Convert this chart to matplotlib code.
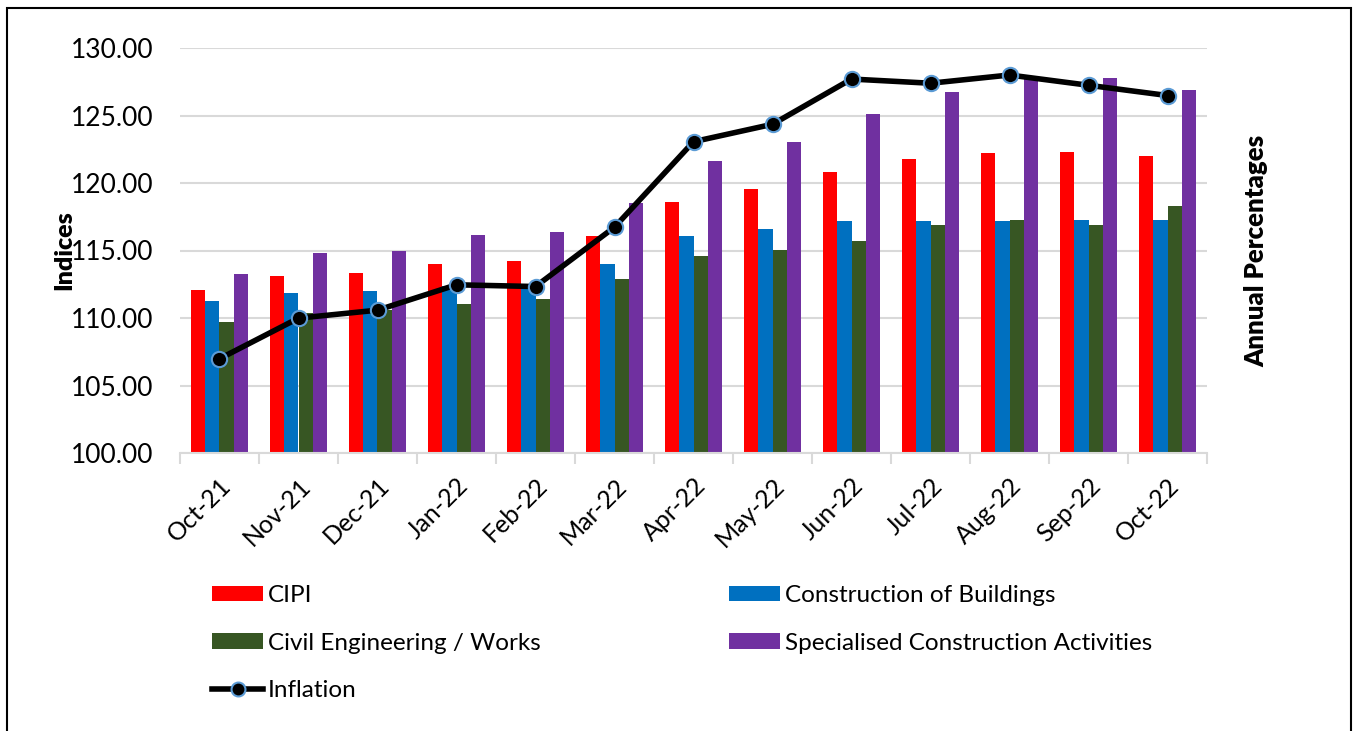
import matplotlib
matplotlib.use("Agg")
import matplotlib.pyplot as plt
import numpy as np
from matplotlib.patches import Rectangle, Patch
from matplotlib.lines import Line2D

months = ["Oct-21", "Nov-21", "Dec-21", "Jan-22", "Feb-22", "Mar-22", "Apr-22",
          "May-22", "Jun-22", "Jul-22", "Aug-22", "Sep-22", "Oct-22"]
cipi = [112.09, 113.12, 113.30, 114.01, 114.21, 116.06, 118.62, 119.56, 120.85,
        121.76, 122.20, 122.28, 122.00]
buildings = [111.25, 111.84, 111.99, 112.40, 112.30, 114.03, 116.08, 116.60, 117.19,
             117.22, 117.22, 117.24, 117.24]
civil = [109.74, 110.36, 110.60, 111.05, 111.40, 112.90, 114.58, 115.05, 115.69,
         116.88, 117.25, 116.90, 118.29]
specialised = [113.27, 114.80, 114.95, 116.14, 116.40, 118.50, 121.66, 123.07, 125.09,
               126.74, 127.80, 127.76, 126.89]
# Inflation plotted on the (unlabelled) secondary axis, read on the same scale
inflation = [106.98, 109.99, 110.58, 112.46, 112.33, 116.73, 123.06, 124.35, 127.70,
             127.39, 128.00, 127.24, 126.48]

yticks = [100, 105, 110, 115, 120, 125, 130]

C_RED = "#FF0000"
C_BLUE = "#0070C0"
C_GREEN = "#375623"
C_PURPLE = "#7030A0"
C_GRID = "#D9D9D9"

FONT = "Lato"
plt.rcParams["font.family"] = [FONT, "DejaVu Sans"]

W, H = 1353, 731
fig = plt.figure(figsize=(W / 100, H / 100), dpi=100)
ax = fig.add_axes([180 / W, 1 - 453 / H, (1207 - 180) / W, (453 - 48) / H])

x = np.arange(len(months))
bw = 0.18
series = [(cipi, C_RED), (buildings, C_BLUE), (civil, C_GREEN), (specialised, C_PURPLE)]
for i, (vals, col) in enumerate(series):
    ax.bar(x + (i - 1.5) * bw, np.array(vals) - 100, bottom=100, width=bw,
           color=col, edgecolor="none", zorder=2)

ax.set_ylim(100, 130)
ax.set_xlim(-0.5, len(months) - 0.5)
ax.set_yticks(yticks)
ax.set_yticklabels([f"{v:.2f}" for v in yticks], fontsize=19)
ax.yaxis.grid(True, color=C_GRID, linewidth=1.5, zorder=0)
ax.set_axisbelow(True)
ax.tick_params(axis="y", length=0, pad=19)
for s in ["top", "right", "left"]:
    ax.spines[s].set_visible(False)
ax.spines["bottom"].set_color(C_GRID)
ax.spines["bottom"].set_linewidth(1.5)

ax.set_xticks(x)
ax.set_xticklabels(months, fontsize=18, rotation=45, ha="right",
                   rotation_mode="anchor")
ax.tick_params(axis="x", length=0, pad=15)
ax.set_xticks(np.arange(-0.5, len(months), 1), minor=True)
ax.tick_params(axis="x", which="minor", length=8, color=C_GRID, width=1.5)

ax.set_ylabel("Indices", fontsize=18, fontweight="heavy", labelpad=-3)

ax2 = ax.twinx()
ax2.set_ylim(100, 130)
ax2.set_yticks([])
for s in ax2.spines.values():
    s.set_visible(False)
ax2.plot(x, inflation, color="black", linewidth=4, marker="o", markersize=11,
         markerfacecolor="black", markeredgecolor="#5B9BD5", markeredgewidth=1.5,
         zorder=5)
ax2.set_ylabel("Annual Percentages", fontsize=18.5, fontweight="heavy", labelpad=27)

# Legend (two columns placed separately to match layout)
h_cipi = Patch(facecolor=C_RED, edgecolor="none")
h_bld = Patch(facecolor=C_BLUE, edgecolor="none")
h_civ = Patch(facecolor=C_GREEN, edgecolor="none")
h_spec = Patch(facecolor=C_PURPLE, edgecolor="none")
h_inf = Line2D([], [], color="black", linewidth=4, marker="o", markersize=10,
               markerfacecolor="black", markeredgecolor="#5B9BD5", markeredgewidth=1.5)

common = dict(frameon=False, fontsize=17.5, handlelength=2.1, handleheight=0.6,
              handletextpad=0.2, labelspacing=1.1, borderaxespad=0, borderpad=0)
leg1 = fig.legend([h_cipi, h_civ, h_inf],
                  ["CIPI", "Civil Engineering / Works", "Inflation"],
                  loc="upper left", bbox_to_anchor=(212 / W, 1 - 585 / H), **common)
leg2 = fig.legend([h_bld, h_spec],
                  ["Construction of Buildings", "Specialised Construction Activities"],
                  loc="upper left", bbox_to_anchor=(729 / W, 1 - 585 / H), **common)

# Outer frame
fig.patches.append(Rectangle((7 / W, -0.05), (1351 - 7) / W, 1 - 8 / H + 0.05,
                             transform=fig.transFigure, fill=False,
                             edgecolor="black", linewidth=1.5))

fig.savefig("out.png", dpi=100)
